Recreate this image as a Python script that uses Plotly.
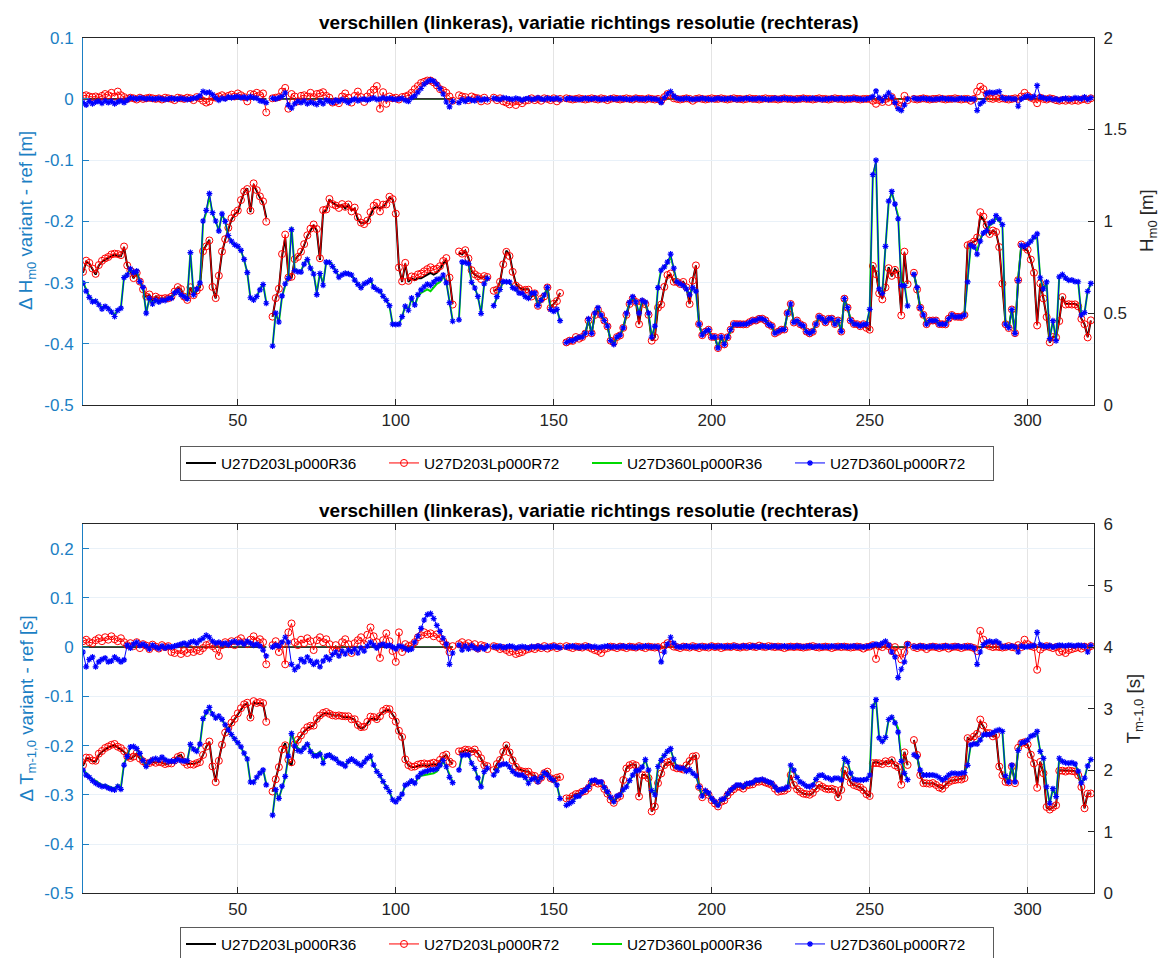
import plotly.graph_objects as go

idx = list(range(1, 321))

# ---------------- upper panel: H_m0 [m] ----------------
hm0_D203_R36 = [
    0.72, 0.78, 0.77, 0.74, 0.71, 0.76, 0.78, 0.79, 0.80, 0.81,
    0.82, 0.81, 0.81, 0.86, 0.76, 0.73, 0.69, 0.72, 0.67, 0.63,
    0.59, 0.60, 0.57, 0.59, 0.58, 0.58, 0.58, 0.58, 0.59, 0.62,
    0.64, 0.63, 0.59, 0.57, 0.64, 0.60, 0.62, 0.64, 0.84, 0.87,
    0.90, 0.64, 0.58, 0.70, 0.83, 0.90, 0.96, 1.01, 1.04, 1.05,
    1.11, 1.16, 1.18, 1.05, 1.20, 1.16, 1.13, 1.10, 1.02, None,
    0.48, 0.58, 0.63, 0.81, 0.91, 0.71, 0.69, 0.79, 0.81, 0.83,
    0.87, 0.92, 0.95, 0.98, 0.95, 0.79, 1.05, 1.06, 1.12, 1.10,
    1.09, 1.08, 1.09, 1.07, 1.09, 1.06, 1.07, 1.01, 0.99, 0.99,
    1.00, 1.04, 1.07, 1.08, 1.07, 1.08, 1.10, 1.13, 1.12, 1.04,
    0.75, 0.67, 0.77, 0.67, 0.69, 0.68, 0.69, 0.69, 0.70, 0.71,
    0.72, 0.71, 0.72, 0.74, 0.77, 0.79, 0.69, 0.55, None, 0.83,
    0.82, 0.84, 0.80, 0.73, 0.71, 0.70, 0.69, 0.70, 0.70, None,
    0.62, 0.63, 0.67, 0.77, 0.84, 0.82, 0.73, 0.66, 0.64, 0.63,
    0.63, 0.63, 0.59, 0.61, 0.54, 0.58, 0.59, 0.64, 0.53, 0.55,
    0.57, 0.61, None, 0.34, 0.35, 0.35, 0.37, 0.36, 0.37, 0.39,
    0.46, 0.39, 0.49, 0.52, 0.49, 0.46, 0.43, 0.35, 0.34, 0.37,
    0.38, 0.42, 0.49, 0.55, 0.58, 0.56, 0.44, 0.56, 0.55, 0.49,
    0.35, 0.37, 0.53, 0.55, 0.64, 0.70, 0.71, 0.67, 0.67, 0.66,
    0.67, 0.64, 0.55, 0.68, 0.76, 0.44, 0.38, 0.40, 0.41, 0.37,
    0.37, 0.31, 0.37, 0.33, 0.37, 0.41, 0.44, 0.44, 0.44, 0.44,
    0.44, 0.45, 0.46, 0.46, 0.47, 0.47, 0.46, 0.44, 0.43, 0.39,
    0.40, 0.41, 0.41, 0.50, 0.55, 0.45, 0.46, 0.44, 0.43, 0.40,
    0.39, 0.40, 0.44, 0.48, 0.47, 0.45, 0.47, 0.47, 0.44, 0.46,
    0.40, 0.58, 0.53, 0.46, 0.44, 0.44, 0.43, 0.44, 0.42, 0.41,
    0.76, 0.72, 0.61, 0.58, 0.64, 0.75, 0.70, 0.74, 0.72, 0.50,
    0.83, 0.66, None, 0.72, 0.63, 0.53, 0.49, 0.44, 0.46, 0.46,
    0.46, 0.44, 0.44, 0.44, 0.47, 0.49, 0.48, 0.48, 0.48, 0.49,
    0.87, 0.88, 0.89, 0.90, 1.03, 1.01, 0.97, 0.93, 0.95, 0.94,
    0.86, 0.66, 0.44, 0.42, 0.52, 0.39, 0.68, 0.87, 0.85, 0.84,
    0.79, 0.72, 0.44, 0.66, 0.58, 0.48, 0.34, 0.37, 0.37, 0.46,
    0.59, 0.55, 0.55, 0.55, 0.55, 0.54, 0.47, 0.44, 0.37, 0.46,
]

hm0_D360_R36 = [
    0.67, 0.63, 0.59, 0.57, 0.57, 0.55, 0.53, 0.54, 0.53, 0.51,
    0.49, 0.52, 0.53, 0.70, 0.71, 0.74, 0.72, 0.73, 0.67, 0.64,
    0.50, 0.58, 0.55, 0.57, 0.56, 0.57, 0.57, 0.58, 0.58, 0.61,
    0.62, 0.60, 0.59, 0.58, 0.83, 0.60, 0.63, 0.66, 0.99, 1.05,
    1.14, 1.04, 1.00, 0.95, 1.04, 1.00, 0.92, 0.89, 0.87, 0.86,
    0.84, 0.79, 0.72, 0.58, 0.57, 0.59, 0.63, 0.66, 0.56, None,
    0.32, 0.50, 0.45, 0.59, 0.65, 0.70, 0.97, 0.74, 0.73, 0.73,
    0.77, 0.80, 0.75, 0.72, 0.61, 0.72, 0.66, 0.78, 0.78, 0.76,
    0.73, 0.70, 0.71, 0.72, 0.72, 0.71, 0.68, 0.66, 0.64, 0.66,
    0.67, 0.68, 0.64, 0.63, 0.62, 0.59, 0.57, 0.54, 0.44, 0.44,
    0.44, 0.48, 0.54, 0.52, 0.58, 0.54, 0.59, 0.61, 0.62, 0.63,
    0.62, 0.64, 0.66, 0.67, 0.70, 0.67, 0.57, 0.46, None, 0.47,
    0.78, 0.78, 0.77, 0.67, 0.64, 0.59, 0.50, 0.66, 0.69, None,
    0.54, 0.59, 0.63, 0.67, 0.67, 0.67, 0.64, 0.63, 0.61, 0.61,
    0.59, 0.58, 0.61, 0.61, 0.54, 0.57, 0.60, 0.64, 0.52, 0.51,
    0.52, 0.46, None, 0.34, 0.35, 0.35, 0.36, 0.37, 0.37, 0.39,
    0.47, 0.39, 0.50, 0.53, 0.49, 0.46, 0.43, 0.35, 0.33, 0.37,
    0.38, 0.42, 0.50, 0.56, 0.59, 0.56, 0.50, 0.57, 0.56, 0.50,
    0.37, 0.43, 0.64, 0.74, 0.75, 0.77, 0.81, 0.74, 0.67, 0.66,
    0.65, 0.63, 0.60, 0.64, 0.62, 0.44, 0.38, 0.40, 0.41, 0.37,
    0.37, 0.31, 0.37, 0.33, 0.37, 0.41, 0.44, 0.44, 0.44, 0.44,
    0.44, 0.45, 0.46, 0.46, 0.47, 0.47, 0.46, 0.44, 0.43, 0.39,
    0.40, 0.41, 0.41, 0.50, 0.55, 0.45, 0.46, 0.44, 0.43, 0.40,
    0.39, 0.40, 0.44, 0.48, 0.47, 0.45, 0.47, 0.47, 0.44, 0.46,
    0.40, 0.58, 0.53, 0.46, 0.44, 0.44, 0.43, 0.44, 0.44, 0.52,
    1.25, 1.32, 0.63, 0.61, 0.86, 1.10, 1.16, 1.10, 1.03, 0.67,
    0.66, 0.54, None, 0.71, 0.64, 0.53, 0.49, 0.44, 0.46, 0.46,
    0.46, 0.44, 0.44, 0.44, 0.47, 0.49, 0.48, 0.48, 0.48, 0.49,
    0.67, 0.87, 0.86, 0.84, 0.90, 0.94, 0.94, 0.98, 0.99, 1.02,
    1.00, 0.98, 0.44, 0.42, 0.52, 0.39, 0.69, 0.87, 0.86, 0.87,
    0.89, 0.91, 0.91, 0.69, 0.63, 0.67, 0.36, 0.46, 0.35, 0.70,
    0.71, 0.69, 0.68, 0.68, 0.67, 0.67, 0.49, 0.50, 0.62, 0.66,
]

# R72 minus R36, same directional set-up
dhm0_D203_R72 = [
    0.005, 0.006, 0.004, 0.003, 0.004, 0.002, 0.005, 0.008, 0.006, 0.010,
    0.004, 0.012, 0.006, 0.003, 0.000, 0.002, 0.001, -0.001, 0.002, 0.000,
    0.001, 0.002, 0.001, 0.000, 0.001, -0.001, 0.002, 0.001, 0.000, -0.002,
    0.002, 0.001, 0.000, 0.002, 0.001, -0.002, 0.003, 0.001, -0.003, -0.006,
    -0.004, 0.003, 0.002, 0.004, 0.006, 0.003, 0.005, 0.007, 0.004, 0.009,
    0.006, 0.003, -0.004, 0.008, 0.007, 0.010, 0.006, 0.009, -0.022, None,
    0.001, 0.002, 0.003, 0.012, 0.018, -0.016, 0.008, 0.004, -0.004, 0.005,
    0.006, 0.004, 0.010, 0.003, 0.008, 0.009, 0.011, 0.005, 0.002, -0.006,
    -0.004, -0.007, 0.004, 0.009, 0.002, -0.006, 0.005, 0.012, 0.003, -0.005,
    0.004, 0.010, 0.015, 0.021, -0.016, 0.011, -0.008, 0.004, 0.001, 0.002,
    -0.001, 0.003, 0.004, 0.006, 0.010, 0.016, 0.021, 0.026, 0.028, 0.030,
    0.030, 0.027, 0.022, 0.016, 0.014, 0.010, 0.004, -0.003, None, 0.006,
    0.004, 0.003, -0.002, 0.004, 0.002, 0.001, -0.004, 0.002, -0.003, None,
    0.002, -0.002, 0.001, -0.004, -0.006, -0.009, -0.005, -0.010, -0.004, -0.007,
    -0.003, -0.002, 0.001, -0.002, 0.000, -0.003, 0.001, 0.000, -0.002, 0.001,
    -0.004, 0.000, None, 0.001, 0.000, -0.001, 0.000, 0.001, 0.000, -0.001,
    0.000, 0.001, 0.000, -0.001, 0.001, 0.000, -0.002, 0.000, 0.001, 0.000,
    -0.001, 0.000, 0.001, 0.000, -0.001, 0.001, 0.000, 0.000, -0.001, 0.001,
    0.000, -0.001, 0.000, -0.003, 0.003, 0.008, 0.006, 0.001, 0.000, -0.001,
    0.000, 0.001, 0.000, -0.003, 0.000, 0.001, 0.000, -0.001, 0.000, 0.001,
    0.000, 0.000, 0.001, 0.000, -0.001, 0.000, 0.001, 0.000, 0.000, -0.001,
    0.000, 0.001, 0.000, 0.000, -0.001, 0.000, 0.001, 0.000, 0.000, 0.000,
    -0.001, 0.000, 0.001, 0.000, 0.000, -0.001, 0.000, 0.000, 0.001, 0.000,
    0.000, -0.001, 0.000, 0.001, 0.000, 0.000, -0.001, 0.000, 0.001, 0.000,
    0.000, -0.001, 0.000, 0.000, 0.001, 0.000, -0.001, 0.000, 0.000, 0.000,
    -0.003, -0.008, -0.002, -0.005, 0.000, -0.005, 0.003, -0.004, -0.010, -0.012,
    0.005, -0.002, None, 0.000, -0.001, 0.000, 0.001, 0.000, -0.001, 0.000,
    0.000, 0.001, 0.000, -0.001, 0.000, 0.000, 0.001, 0.000, -0.001, 0.000,
    0.000, -0.003, 0.000, 0.012, 0.020, 0.016, 0.008, 0.001, 0.000, 0.002,
    0.000, 0.001, 0.000, -0.001, 0.000, 0.001, 0.000, 0.004, 0.010, 0.005,
    0.002, 0.000, -0.007, 0.002, 0.000, -0.001, 0.001, 0.000, -0.002, -0.003,
    -0.002, -0.003, -0.001, -0.003, -0.002, -0.003, -0.001, 0.000, -0.002, 0.001,
]

dhm0_D360_R72 = [
    -0.006, -0.010, -0.004, -0.008, -0.005, -0.004, -0.007, -0.003, -0.006, -0.004,
    -0.008, -0.005, -0.003, -0.006, -0.002, 0.002, 0.001, 0.000, 0.002, 0.001,
    0.000, 0.001, 0.000, 0.000, 0.001, 0.000, -0.001, 0.000, 0.001, 0.000,
    0.000, 0.001, 0.000, -0.001, 0.000, 0.001, 0.002, 0.005, 0.012, 0.010,
    0.011, 0.007, 0.002, -0.002, 0.001, 0.000, 0.003, 0.002, 0.003, 0.004,
    0.002, 0.003, 0.001, 0.004, 0.002, 0.001, -0.003, -0.004, -0.006, None,
    0.001, 0.000, 0.002, 0.004, 0.010, -0.010, -0.015, -0.008, -0.004, -0.006,
    -0.003, -0.008, -0.005, -0.007, -0.009, -0.004, -0.008, -0.002, -0.004, -0.006,
    -0.002, -0.004, -0.001, -0.003, -0.006, -0.002, 0.000, -0.003, -0.001, 0.000,
    -0.002, 0.000, 0.002, -0.001, 0.000, 0.002, 0.000, 0.001, 0.000, -0.001,
    0.000, 0.001, -0.002, -0.004, 0.002, 0.005, 0.011, 0.017, 0.024, 0.028,
    0.031, 0.029, 0.024, 0.017, 0.008, -0.005, -0.013, -0.004, None, -0.006,
    -0.001, -0.004, 0.000, -0.002, -0.003, 0.001, -0.002, 0.000, -0.001, None,
    0.001, 0.000, -0.001, 0.002, 0.001, 0.000, -0.001, 0.001, 0.000, -0.002,
    0.000, 0.001, -0.001, 0.000, 0.002, 0.000, -0.001, 0.001, 0.000, 0.000,
    0.001, -0.001, None, 0.000, 0.001, 0.000, 0.000, -0.001, 0.000, 0.001,
    0.000, 0.000, 0.001, 0.000, -0.001, 0.000, 0.000, 0.001, 0.000, 0.000,
    0.001, 0.000, 0.000, -0.001, 0.000, 0.001, 0.000, 0.000, 0.000, 0.001,
    0.000, 0.000, -0.001, -0.006, 0.002, 0.008, 0.012, 0.005, 0.001, 0.000,
    0.000, 0.001, 0.000, -0.001, 0.000, 0.000, 0.001, 0.000, 0.000, -0.001,
    0.000, 0.001, 0.000, 0.000, 0.000, 0.001, 0.000, -0.001, 0.000, 0.000,
    0.001, 0.000, 0.000, 0.000, 0.001, 0.000, 0.000, -0.001, 0.000, 0.001,
    0.000, 0.000, 0.001, 0.000, 0.000, 0.000, -0.001, 0.000, 0.001, 0.000,
    0.000, 0.001, 0.000, 0.000, -0.001, 0.000, 0.000, 0.001, 0.000, 0.000,
    0.001, 0.000, 0.000, 0.000, 0.001, 0.000, 0.000, -0.001, 0.000, 0.001,
    0.004, 0.013, 0.002, -0.003, 0.004, 0.010, 0.003, -0.006, -0.016, -0.019,
    -0.010, 0.000, None, 0.001, 0.000, 0.000, 0.001, 0.000, 0.000, -0.001,
    0.000, 0.000, 0.001, 0.000, 0.000, 0.000, -0.001, 0.000, 0.001, 0.000,
    0.000, 0.000, 0.000, -0.019, -0.008, -0.004, 0.009, 0.011, 0.010, 0.011,
    0.012, 0.002, 0.000, 0.001, 0.000, 0.000, -0.012, 0.000, 0.003, 0.005,
    0.002, 0.004, 0.022, 0.003, 0.002, 0.000, 0.001, -0.001, 0.000, -0.002,
    0.000, 0.001, -0.001, 0.000, 0.002, 0.001, 0.000, 0.003, -0.001, 0.002,
]

# ---------------- lower panel: T_m-1,0 [s] ----------------
tm_D203_R36 = [
    2.07, 2.19, 2.19, 2.15, 2.14, 2.25, 2.30, 2.34, 2.37, 2.39,
    2.41, 2.37, 2.34, 2.30, 2.22, 2.19, 2.22, 2.27, 2.19, 2.14,
    2.10, 2.12, 2.14, 2.12, 2.14, 2.12, 2.10, 2.11, 2.12, 2.17,
    2.22, 2.25, 2.14, 2.10, 2.10, 2.10, 2.12, 2.14, 2.25, 2.38,
    2.46, 2.06, 1.81, 2.17, 2.41, 2.60, 2.68, 2.76, 2.83, 2.91,
    2.99, 3.06, 3.09, 2.84, 3.10, 3.08, 3.09, 3.08, 2.82, None,
    1.65, 1.84, 2.06, 2.33, 2.44, 2.14, 2.08, 2.41, 2.49, 2.55,
    2.63, 2.68, 2.71, 2.73, 2.82, 2.87, 2.92, 2.93, 2.91, 2.90,
    2.88, 2.90, 2.87, 2.86, 2.87, 2.84, 2.82, 2.72, 2.68, 2.70,
    2.76, 2.83, 2.84, 2.82, 2.90, 2.95, 2.97, 2.98, 2.90, 2.82,
    2.61, 2.55, 2.17, 2.08, 2.05, 2.05, 2.07, 2.08, 2.08, 2.07,
    2.08, 2.10, 2.08, 2.15, 2.22, 2.25, 2.15, 2.10, None, 2.30,
    2.30, 2.33, 2.32, 2.30, 2.33, 2.27, 2.19, 2.08, 2.07, None,
    2.00, 2.10, 2.17, 2.30, 2.41, 2.30, 2.17, 2.07, 2.01, 1.99,
    1.98, 1.98, 1.92, 1.91, 1.83, 1.88, 1.95, 1.98, 1.87, 1.85,
    1.88, 1.89, None, 1.54, 1.54, 1.58, 1.61, 1.62, 1.65, 1.66,
    1.71, 1.80, 1.82, 1.79, 1.80, 1.70, 1.62, 1.52, 1.47, 1.55,
    1.58, 1.84, 2.03, 2.08, 2.10, 2.08, 1.57, 1.92, 1.92, 1.87,
    1.33, 1.41, 1.79, 1.95, 2.08, 2.12, 2.14, 2.05, 2.03, 2.03,
    2.01, 2.08, 2.15, 2.22, 2.23, 1.73, 1.56, 1.64, 1.60, 1.51,
    1.46, 1.41, 1.49, 1.51, 1.59, 1.65, 1.69, 1.73, 1.73, 1.70,
    1.75, 1.76, 1.77, 1.81, 1.81, 1.82, 1.80, 1.78, 1.76, 1.70,
    1.65, 1.66, 1.67, 1.70, 1.92, 1.76, 1.69, 1.65, 1.62, 1.61,
    1.60, 1.63, 1.70, 1.76, 1.73, 1.70, 1.69, 1.70, 1.68, 1.56,
    1.68, 2.00, 1.90, 1.80, 1.76, 1.74, 1.72, 1.68, 1.61, 1.58,
    2.11, 2.14, 2.11, 2.10, 2.14, 2.11, 2.17, 2.08, 2.06, 1.79,
    2.30, 2.08, None, 2.49, 2.25, 1.92, 1.79, 1.79, 1.78, 1.79,
    1.76, 1.72, 1.70, 1.76, 1.81, 1.83, 1.84, 1.85, 1.85, 1.87,
    2.52, 2.49, 2.55, 2.60, 2.79, 2.71, 2.60, 2.60, 2.55, 2.57,
    2.06, 1.92, 1.81, 1.80, 2.06, 1.79, 2.36, 2.44, 2.44, 2.41,
    2.25, 2.11, 1.76, 2.14, 1.95, 1.40, 1.36, 1.40, 1.43, 2.00,
    2.00, 1.99, 2.00, 1.99, 1.98, 1.92, 1.73, 1.38, 1.62, 1.62,
]

tm_D360_R36 = [
    2.01, 1.96, 1.91, 1.85, 1.83, 1.79, 1.76, 1.76, 1.74, 1.72,
    1.70, 1.76, 1.72, 2.11, 2.22, 2.38, 2.38, 2.34, 2.27, 2.15,
    2.06, 2.14, 2.17, 2.19, 2.17, 2.21, 2.17, 2.14, 2.15, 2.14,
    2.17, 2.15, 2.14, 2.15, 2.41, 2.33, 2.30, 2.41, 2.82, 2.92,
    3.00, 2.90, 2.84, 2.87, 2.82, 2.73, 2.65, 2.57, 2.50, 2.44,
    2.37, 2.27, 2.17, 1.80, 1.80, 1.88, 1.95, 2.01, 1.78, None,
    1.27, 1.68, 1.54, 1.73, 1.88, 2.22, 2.63, 2.44, 2.36, 2.33,
    2.39, 2.44, 2.33, 2.27, 2.26, 2.30, 2.14, 2.25, 2.27, 2.22,
    2.19, 2.14, 2.11, 2.08, 2.15, 2.19, 2.15, 2.12, 2.08, 2.14,
    2.19, 2.22, 2.08, 1.98, 1.91, 1.81, 1.72, 1.65, 1.52, 1.49,
    1.54, 1.61, 1.76, 1.79, 1.83, 1.78, 1.87, 1.91, 1.92, 1.92,
    1.94, 1.95, 1.98, 2.05, 2.14, 2.05, 1.92, 1.81, None, 2.00,
    2.25, 2.25, 2.25, 2.11, 2.03, 1.88, 1.73, 1.98, 2.03, None,
    1.92, 1.99, 2.08, 2.10, 2.10, 2.05, 1.98, 1.94, 1.92, 1.92,
    1.88, 1.79, 1.85, 1.87, 1.81, 1.88, 1.96, 1.92, 1.87, 1.83,
    1.76, 1.54, None, 1.43, 1.46, 1.49, 1.57, 1.58, 1.64, 1.68,
    1.73, 1.83, 1.84, 1.81, 1.81, 1.72, 1.65, 1.56, 1.49, 1.58,
    1.60, 1.68, 1.73, 1.83, 1.92, 1.99, 2.00, 2.05, 2.17, 2.00,
    1.67, 1.60, 2.06, 2.19, 2.25, 2.30, 2.33, 2.17, 2.05, 2.03,
    2.03, 1.98, 2.01, 1.95, 1.91, 1.73, 1.58, 1.67, 1.63, 1.54,
    1.49, 1.43, 1.52, 1.54, 1.62, 1.68, 1.72, 1.76, 1.76, 1.73,
    1.78, 1.79, 1.80, 1.84, 1.84, 1.85, 1.83, 1.81, 1.79, 1.73,
    1.68, 1.69, 1.70, 1.73, 2.08, 2.00, 1.88, 1.81, 1.78, 1.74,
    1.73, 1.76, 1.85, 1.91, 1.92, 1.88, 1.87, 1.84, 1.87, 1.87,
    1.84, 2.19, 2.14, 1.95, 1.85, 1.84, 1.84, 1.84, 1.85, 1.92,
    3.03, 3.14, 2.52, 2.46, 2.52, 2.82, 2.87, 2.79, 2.68, 2.19,
    1.98, 1.84, None, 2.25, 2.22, 2.00, 1.92, 1.92, 1.92, 1.92,
    1.91, 1.88, 1.84, 1.87, 1.92, 1.95, 1.95, 1.94, 1.95, 1.96,
    2.08, 2.41, 2.43, 2.46, 2.50, 2.57, 2.57, 2.57, 2.60, 2.63,
    2.65, 2.63, 1.91, 1.81, 2.08, 1.81, 2.33, 2.44, 2.46, 2.49,
    2.55, 2.57, 2.60, 2.30, 2.19, 1.73, 1.46, 1.70, 1.57, 2.19,
    2.14, 2.12, 2.11, 2.12, 2.10, 1.98, 1.79, 1.87, 2.08, 2.17,
]

dtm_D203_R72 = [
    0.012, 0.015, 0.010, 0.008, 0.014, 0.018, 0.012, 0.020, 0.015, 0.022,
    0.016, 0.012, 0.018, 0.010, 0.004, 0.008, 0.002, 0.010, -0.002, 0.006,
    0.003, -0.004, 0.005, 0.001, -0.003, 0.004, 0.000, 0.002, -0.010, -0.012,
    -0.006, -0.014, -0.008, -0.012, -0.004, -0.010, -0.006, -0.008, -0.002, 0.004,
    0.006, 0.002, -0.003, -0.018, 0.004, 0.010, 0.006, 0.012, 0.004, 0.014,
    0.018, 0.010, 0.006, 0.015, 0.022, 0.012, 0.016, 0.010, -0.035, None,
    0.004, 0.012, -0.010, 0.006, -0.035, 0.030, 0.048, 0.010, 0.004, 0.015,
    0.008, 0.018, 0.012, -0.006, 0.014, 0.020, 0.010, 0.016, 0.006, -0.008,
    0.004, -0.010, 0.010, 0.016, 0.006, -0.012, 0.008, 0.014, 0.020, 0.006,
    0.025, 0.040, 0.022, 0.010, -0.022, 0.014, 0.028, 0.012, -0.008, -0.030,
    0.030, -0.010, 0.006, 0.002, 0.004, 0.010, 0.020, 0.024, 0.030, 0.026,
    0.028, 0.022, 0.026, 0.018, 0.012, 0.004, -0.010, 0.002, None, 0.006,
    0.010, 0.004, 0.008, 0.002, 0.006, -0.003, 0.004, 0.002, -0.004, None,
    0.002, 0.000, -0.004, -0.002, -0.006, -0.010, -0.008, -0.014, -0.012, -0.010,
    -0.006, -0.004, -0.002, -0.004, 0.000, -0.002, 0.002, -0.003, 0.000, 0.002,
    -0.002, 0.001, None, 0.002, 0.000, -0.002, 0.001, 0.000, -0.001, 0.002,
    0.000, -0.003, -0.006, -0.008, -0.012, -0.004, -0.002, 0.001, 0.000, -0.002,
    0.001, 0.000, -0.002, 0.001, 0.000, -0.001, 0.002, 0.000, -0.002, 0.001,
    0.000, -0.001, 0.000, -0.004, 0.003, 0.008, 0.005, 0.001, 0.000, -0.002,
    0.001, 0.000, -0.001, 0.002, 0.000, -0.002, 0.001, 0.000, -0.001, 0.002,
    0.000, 0.001, -0.002, 0.000, 0.001, 0.000, 0.002, 0.000, -0.001, 0.001,
    0.000, 0.002, 0.001, 0.000, 0.003, 0.001, 0.000, 0.002, 0.001, 0.000,
    0.001, 0.000, -0.002, 0.000, 0.001, 0.000, 0.001, 0.000, -0.001, 0.000,
    0.001, 0.002, 0.000, -0.001, 0.000, 0.001, 0.000, -0.002, 0.000, 0.001,
    0.000, 0.001, 0.000, -0.001, 0.000, 0.001, 0.000, -0.003, 0.000, 0.001,
    0.004, -0.024, 0.002, 0.000, 0.005, 0.002, -0.008, 0.000, -0.010, -0.025,
    -0.010, 0.005, None, 0.000, -0.002, 0.001, 0.000, -0.004, 0.000, 0.001,
    0.000, -0.002, 0.000, 0.001, -0.003, 0.000, 0.001, 0.000, -0.002, 0.000,
    0.001, 0.000, -0.002, -0.008, 0.033, 0.015, 0.005, 0.002, 0.000, 0.001,
    0.000, -0.001, 0.000, 0.002, 0.000, -0.001, 0.004, 0.000, 0.015, 0.006,
    0.002, 0.000, -0.046, -0.005, 0.000, 0.002, 0.000, -0.002, 0.000, -0.010,
    -0.008, -0.012, -0.006, -0.004, -0.002, 0.000, -0.003, 0.001, -0.002, 0.002,
]

dtm_D360_R72 = [
    -0.010, -0.040, -0.025, -0.020, -0.040, -0.030, -0.025, -0.022, -0.030, -0.028,
    -0.020, -0.025, -0.030, -0.026, 0.004, -0.002, 0.006, 0.010, 0.003, 0.006,
    0.002, -0.004, 0.004, 0.000, -0.003, 0.002, -0.002, 0.001, 0.000, 0.002,
    0.004, 0.006, 0.008, 0.005, 0.010, 0.012, 0.008, 0.014, 0.018, 0.024,
    0.020, 0.012, 0.008, 0.010, 0.006, 0.008, 0.005, 0.010, 0.012, 0.008,
    0.010, 0.006, 0.012, 0.008, 0.004, 0.006, 0.002, -0.006, -0.018, None,
    0.000, 0.004, 0.002, 0.010, 0.020, 0.010, -0.035, -0.046, -0.040, -0.025,
    -0.030, -0.020, -0.028, -0.035, -0.030, -0.040, -0.028, -0.020, -0.025, -0.015,
    -0.010, -0.018, -0.008, -0.014, -0.006, -0.010, -0.004, -0.012, -0.002, -0.008,
    0.002, 0.010, 0.004, -0.002, 0.004, 0.006, 0.002, 0.004, 0.000, -0.004,
    0.002, 0.001, -0.003, -0.006, -0.004, 0.010, 0.022, 0.038, 0.055, 0.066,
    0.068, 0.058, 0.044, 0.032, 0.018, 0.006, -0.035, -0.012, None, 0.004,
    -0.006, 0.002, -0.004, 0.003, -0.002, -0.005, 0.000, -0.004, 0.002, None,
    0.001, 0.000, 0.002, -0.001, 0.000, 0.002, 0.001, -0.002, 0.000, 0.001,
    0.000, -0.002, 0.001, 0.000, 0.002, 0.000, -0.001, 0.001, 0.000, 0.002,
    0.000, -0.001, None, 0.000, 0.001, 0.002, 0.000, -0.001, 0.001, 0.000,
    0.002, 0.000, 0.001, -0.001, 0.000, 0.001, 0.002, 0.000, 0.001, 0.000,
    0.001, 0.002, 0.000, 0.001, 0.000, -0.001, 0.001, 0.000, 0.002, 0.001,
    0.000, 0.001, 0.000, -0.030, -0.010, 0.006, 0.020, 0.008, 0.001, 0.000,
    0.001, 0.002, 0.000, 0.001, 0.000, 0.002, 0.001, 0.000, 0.001, 0.002,
    0.000, 0.001, 0.002, 0.000, 0.001, 0.000, 0.002, 0.001, 0.000, 0.002,
    0.001, 0.000, 0.002, 0.001, 0.000, 0.002, 0.001, 0.000, 0.001, 0.002,
    0.000, 0.001, 0.002, 0.000, 0.001, 0.000, 0.002, 0.001, 0.000, 0.001,
    0.002, 0.000, 0.001, 0.002, 0.000, 0.001, 0.000, 0.002, 0.001, 0.000,
    0.002, 0.001, 0.000, 0.001, 0.002, 0.000, 0.001, 0.000, 0.001, 0.002,
    0.004, 0.006, 0.004, 0.008, 0.012, 0.004, -0.010, -0.020, -0.062, -0.045,
    -0.030, 0.006, None, 0.001, 0.000, 0.002, 0.001, 0.000, 0.001, 0.002,
    0.000, 0.001, 0.000, 0.002, 0.001, 0.000, 0.001, 0.002, 0.000, 0.001,
    0.000, 0.001, -0.002, -0.035, -0.010, 0.005, 0.010, 0.012, 0.010, 0.012,
    0.008, 0.000, 0.001, 0.000, 0.002, 0.000, -0.010, 0.002, 0.000, 0.001,
    0.002, 0.003, 0.030, 0.005, 0.002, 0.001, 0.003, 0.000, 0.002, 0.004,
    0.003, 0.002, 0.004, 0.003, 0.002, 0.004, 0.003, 0.002, -0.010, 0.003,
]

series_names = ["U27D203Lp000R36", "U27D203Lp000R72",
                "U27D360Lp000R36", "U27D360Lp000R72"]

panel_title = "verschillen (linkeras), variatie richtings resolutie (rechteras)"

top_left_ticks = [-0.5, -0.4, -0.3, -0.2, -0.1, 0, 0.1]
top_left_labels = ["-0.5", "-0.4", "-0.3", "-0.2", "-0.1", "0", "0.1"]
top_right_ticks = [0, 0.5, 1, 1.5, 2]
top_right_labels = ["0", "0.5", "1", "1.5", "2"]
bot_left_ticks = [-0.5, -0.4, -0.3, -0.2, -0.1, 0, 0.1, 0.2]
bot_left_labels = ["-0.5", "-0.4", "-0.3", "-0.2", "-0.1", "0", "0.1", "0.2"]
bot_right_ticks = [0, 1, 2, 3, 4, 5, 6]
bot_right_labels = ["0", "1", "2", "3", "4", "5", "6"]
x_ticks = [50, 100, 150, 200, 250, 300]

for arr in (hm0_D203_R36, hm0_D360_R36, dhm0_D203_R72, dhm0_D360_R72,
            tm_D203_R36, tm_D360_R36, dtm_D203_R72, dtm_D360_R72):
    assert len(arr) == len(idx), len(arr)

# ---------------- styling ----------------
FONT = "Liberation Sans, Arial, Helvetica, sans-serif"
AX_BLUE = "#1b7fc4"
DARK = "#262626"
C_BLACK, C_RED, C_GREEN, C_BLUE = "#000000", "#ff0000", "#00d900", "#0000ff"

RED_MARKER = dict(symbol="circle-open", size=7, line=dict(color=C_RED, width=1))
BLUE_MARKER = dict(symbol="asterisk-open", size=5, color=C_BLUE,
                   line=dict(color=C_BLUE, width=1.2))


def add_sum(a, b):
    return [None if (u is None or v is None) else u + v for u, v in zip(a, b)]


def self_diff(a):
    return [None if u is None else u - u for u in a]


def add_panel(fig, xa, yl, yr, ref203, ref360, d203, d360, legend):
    # left axis: differences variant - reference
    fig.add_trace(go.Scatter(x=idx, y=self_diff(ref360), xaxis=xa, yaxis=yl, mode="lines",
                             line=dict(color=C_GREEN, width=1.8), showlegend=False))
    fig.add_trace(go.Scatter(x=idx, y=self_diff(ref203), xaxis=xa, yaxis=yl, mode="lines",
                             line=dict(color="#333333", width=1.8), showlegend=False))
    fig.add_trace(go.Scatter(x=idx, y=d203, xaxis=xa, yaxis=yl, mode="lines+markers",
                             line=dict(color=C_RED, width=1), marker=RED_MARKER,
                             showlegend=False))
    fig.add_trace(go.Scatter(x=idx, y=d360, xaxis=xa, yaxis=yl, mode="lines+markers",
                             line=dict(color=C_BLUE, width=1), marker=BLUE_MARKER,
                             showlegend=False))
    # right axis: absolute values per variant
    fig.add_trace(go.Scatter(x=idx, y=ref203, xaxis=xa, yaxis=yr, mode="lines",
                             name=series_names[0], legend=legend,
                             line=dict(color=C_BLACK, width=2)))
    fig.add_trace(go.Scatter(x=idx, y=add_sum(ref203, d203), xaxis=xa, yaxis=yr,
                             mode="lines+markers", name=series_names[1], legend=legend,
                             line=dict(color=C_RED, width=1), marker=RED_MARKER))
    fig.add_trace(go.Scatter(x=idx, y=ref360, xaxis=xa, yaxis=yr, mode="lines",
                             name=series_names[2], legend=legend,
                             line=dict(color=C_GREEN, width=2)))
    fig.add_trace(go.Scatter(x=idx, y=add_sum(ref360, d360), xaxis=xa, yaxis=yr,
                             mode="lines+markers", name=series_names[3], legend=legend,
                             line=dict(color=C_BLUE, width=1), marker=BLUE_MARKER))


fig = go.Figure()
add_panel(fig, "x", "y", "y2", hm0_D203_R36, hm0_D360_R36, dhm0_D203_R72, dhm0_D360_R72, "legend")
add_panel(fig, "x2", "y3", "y4", tm_D203_R36, tm_D360_R36, dtm_D203_R72, dtm_D360_R72, "legend2")

W, H = 1173, 958
X0, X1 = 83 / W, 1094 / W
TOP_DOM = [1 - 405 / H, 1 - 37.7 / H]
BOT_DOM = [1 - 893.3 / H, 1 - 524 / H]
TICKF = dict(family=FONT, size=17, color=DARK)


def xaxis_cfg(anchor):
    return dict(domain=[X0, X1], anchor=anchor, range=[1, 321], tickvals=x_ticks,
                ticks="inside", ticklen=6, tickcolor=DARK, showline=True, linecolor=DARK,
                linewidth=1, mirror="ticks", showgrid=True, gridcolor="#e4e4e4",
                zeroline=False, tickfont=TICKF)


def left_cfg(dom, anchor, rng, vals, text):
    return dict(domain=dom, anchor=anchor, range=rng, tickvals=vals, ticktext=text,
                ticks="inside", ticklen=6, tickcolor=AX_BLUE, showline=True,
                linecolor=AX_BLUE, linewidth=1, showgrid=True, gridcolor="#e9f1f8",
                zeroline=False, ticklabelstandoff=5,
                tickfont=dict(family=FONT, size=17, color=AX_BLUE))


def right_cfg(overlay, anchor, rng, vals, text):
    return dict(overlaying=overlay, anchor=anchor, side="right", range=rng, tickvals=vals,
                ticktext=text, ticks="inside", ticklen=6, tickcolor=DARK, showline=True,
                linecolor=DARK, linewidth=1, showgrid=False, zeroline=False,
                ticklabelstandoff=5, tickfont=TICKF)


legend_common = dict(orientation="h", xanchor="center", x=(181 + 993) / 2 / W,
                     yanchor="middle", bgcolor="white", bordercolor="#5a5a5a",
                     borderwidth=1, entrywidth=158, entrywidthmode="pixels",
                     font=dict(family=FONT, size=15.3, color="#000000"),
                     itemclick=False, itemdoubleclick=False)

fig.update_layout(
    width=W, height=H, autosize=False,
    margin=dict(l=0, r=0, t=0, b=0, autoexpand=False),
    paper_bgcolor="white", plot_bgcolor="white",
    font=dict(family=FONT, size=17, color=DARK),
    xaxis=xaxis_cfg("y"),
    yaxis=left_cfg(TOP_DOM, "x", [-0.5, 0.1], top_left_ticks, top_left_labels),
    yaxis2=right_cfg("y", "x", [0, 2], top_right_ticks, top_right_labels),
    xaxis2=xaxis_cfg("y3"),
    yaxis3=left_cfg(BOT_DOM, "x2", [-0.5, 0.25], bot_left_ticks, bot_left_labels),
    yaxis4=right_cfg("y3", "x2", [0, 6], bot_right_ticks, bot_right_labels),
    legend=dict(y=1 - 463 / H, **legend_common),
    legend2=dict(y=1 - 944 / H, **legend_common),
    showlegend=True,
)

annotations = [
    dict(text="<b>" + panel_title + "</b>", x=588.5 / W, y=1 - 22 / H),
    dict(text="<b>" + panel_title + "</b>", x=588.5 / W, y=1 - 511 / H),
]
for a in annotations:
    a.update(xref="paper", yref="paper", showarrow=False, xanchor="center", yanchor="middle",
             font=dict(family=FONT, size=19, color="#000000"))

axis_labels = [
    dict(text="Δ H<sub>m0</sub> variant - ref [m]", x=27 / W, y=1 - 221 / H, color=AX_BLUE),
    dict(text="H<sub>m0</sub> [m]", x=1148 / W, y=1 - 221 / H, color=DARK),
    dict(text="Δ T<sub>m-1,0</sub> variant - ref [s]", x=27 / W, y=1 - 708.5 / H, color=AX_BLUE),
    dict(text="T<sub>m-1,0</sub> [s]", x=1134 / W, y=1 - 708.5 / H, color=DARK),
]
for lab in axis_labels:
    annotations.append(dict(text=lab["text"], x=lab["x"], y=lab["y"], xref="paper",
                            yref="paper", showarrow=False, textangle=-90,
                            xanchor="center", yanchor="middle",
                            font=dict(family=FONT, size=18.7, color=lab["color"])))

fig.update_layout(annotations=annotations)

fig.write_html("out.html")
